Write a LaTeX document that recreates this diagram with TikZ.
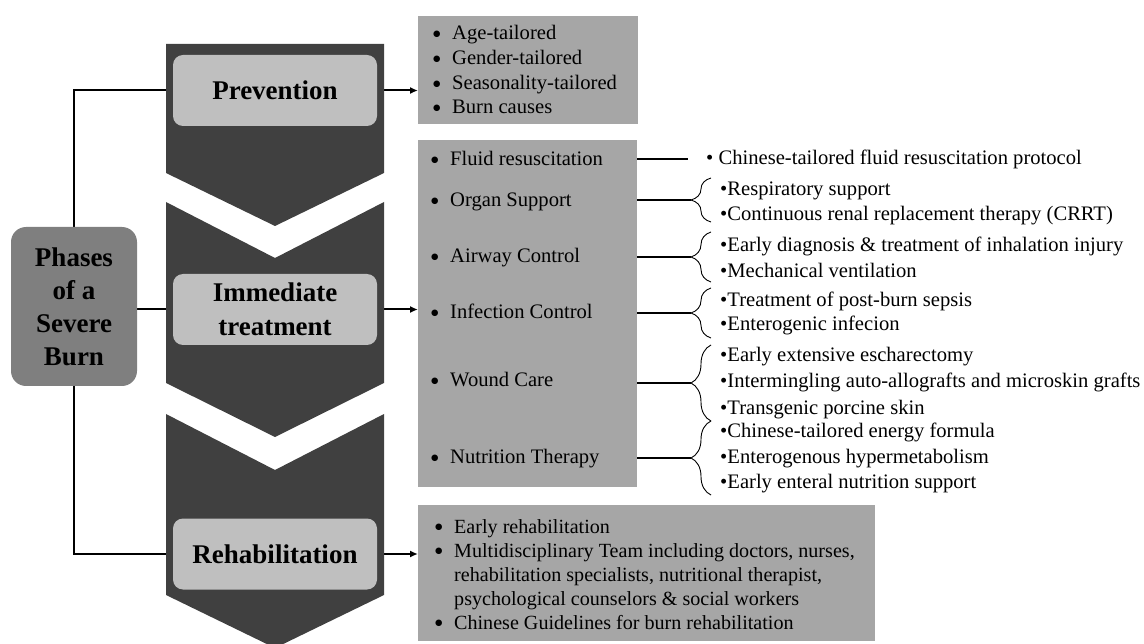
\documentclass[tikz,border=0pt]{standalone}
\usepackage{fontspec}
\setmainfont{Liberation Serif}
\newfontfamily\dotfont{DejaVu Sans}
\usetikzlibrary{arrows.meta,decorations.pathreplacing}
\pgfdeclarelayer{background}
\pgfsetlayers{background,main}
\definecolor{chevroncol}{HTML}{404040}
\definecolor{phasecol}{HTML}{7F7F7F}
\definecolor{stepcol}{HTML}{BFBFBF}
\definecolor{listcol}{HTML}{A6A6A6}
\newcommand{\itm}[1]{\makebox[19pt][l]{\raisebox{3.6pt}{\dotfont\fontsize{8.5}{9}\selectfont ●}}#1}
\tikzset{
	stepbox/.style={fill=stepcol, rounded corners=10pt, minimum width=204pt, minimum height=71pt, align=center, font=\fontsize{27}{34}\selectfont\bfseries},
	listbox/.style={fill=listcol, anchor=north west, inner sep=0pt},
	entry/.style={anchor=base west, inner sep=0pt, font=\fontsize{20.6}{24}\selectfont},
	rehabentry/.style={entry, font=\fontsize{20.1}{24}\selectfont},
	linkline/.style={line width=2pt},
	bracket/.style={decorate, decoration={brace, amplitude=20pt}, line width=0.9pt}
}

\begin{document}
\begin{tikzpicture}[x=1pt,y=-1pt]
			%%%%% FRAME %%%%%
			\useasboundingbox (0,0) rectangle (1144,644);
			
			%%%%% CHEVRONS %%%%%
			\fill[chevroncol] (166,44) -- (384,44) -- (384,173) -- (275,226) -- (166,173) -- cycle;
			\fill[chevroncol] (166,202) -- (275,258) -- (384,202) -- (384,383) -- (275,437) -- (166,383) -- cycle;
			\fill[chevroncol] (166,414) -- (275,470) -- (384,414) -- (384,595) -- (275,648) -- (166,595) -- cycle;
			
			%%%%% PHASES %%%%%
			\node[stepbox] (prev) at (275,90.5) {Prevention};
			\node[stepbox] (immed) at (275,309.5) {Immediate\\treatment};
			\node[stepbox] (rehab) at (275,554) {Rehabilitation};
			
			\node[fill=phasecol, rounded corners=15pt, minimum width=126pt, minimum height=159pt, align=center, font=\fontsize{27}{33}\selectfont\bfseries] (phases) at (74,306.5) {Phases\\of a\\Severe\\Burn};
			
			%%%%% LISTS %%%%%
			\node[listbox, minimum width=220pt, minimum height=108pt] (prevlist) at (418,16) {};
			\node[entry] (age) at (433,40) {\itm{Age-tailored}};
			\node[entry] (gender) at (433,65) {\itm{Gender-tailored}};
			\node[entry] (season) at (433,90) {\itm{Seasonality-tailored}};
			\node[entry] (cause) at (433,114) {\itm{Burn causes}};
			
			\node[listbox, minimum width=219pt, minimum height=347pt] (immedlist) at (418,140) {};
			\node[entry] (fluid) at (431,166) {\itm{Fluid resuscitation}};
			\node[entry] (organ) at (431,207) {\itm{Organ Support}};
			\node[entry] (airway) at (431,263) {\itm{Airway Control}};
			\node[entry] (infect) at (431,319) {\itm{Infection Control}};
			\node[entry] (wound) at (431,387) {\itm{Wound Care}};
			\node[entry] (nutri) at (431,464) {\itm{Nutrition Therapy}};
			
			\node[listbox, minimum width=457pt, minimum height=136pt] (rehablist) at (418,505) {};
			\node[rehabentry] (early) at (435,533) {\itm{Early rehabilitation}};
			\node[rehabentry] (team) at (435,557) {\itm{Multidisciplinary Team including doctors, nurses,}};
			\node[rehabentry] (team2) at (454,581) {rehabilitation specialists, nutritional therapist,};
			\node[rehabentry] (team3) at (454,605) {psychological counselors \& social workers};
			\node[rehabentry] (guide) at (435,629) {\itm{Chinese Guidelines for burn rehabilitation}};
			
			%%%%% DETAILS %%%%%
			\node[entry] (fluidr) at (706,165) {\textbullet\ Chinese-tailored fluid resuscitation protocol};
			\node[entry] (resp) at (720,196) {\textbullet Respiratory support};
			\node[entry] (crrt) at (720,221) {\textbullet Continuous renal replacement therapy (CRRT)};
			\node[entry] (inhal) at (720,252) {\textbullet Early diagnosis \& treatment of inhalation injury};
			\node[entry] (mech) at (720,278) {\textbullet Mechanical ventilation};
			\node[entry] (sepsis) at (720,307) {\textbullet Treatment of post-burn sepsis};
			\node[entry] (entinf) at (720,331) {\textbullet Enterogenic infecion};
			\node[entry] (eschar) at (720,362) {\textbullet Early extensive escharectomy};
			\node[entry] (graft) at (720,388) {\textbullet Intermingling auto-allografts and microskin grafts};
			\node[entry] (porcine) at (720,414) {\textbullet Transgenic porcine skin};
			\node[entry] (energy) at (720,437) {\textbullet Chinese-tailored energy formula};
			\node[entry] (hyper) at (720,463) {\textbullet Enterogenous hypermetabolism};
			\node[entry] (enteral) at (720,488) {\textbullet Early enteral nutrition support};
			
			\draw[bracket] (711,222) -- (711,178);
			\draw[bracket] (711,282) -- (711,232);
			\draw[bracket] (711,338) -- (711,288);
			\draw[bracket] (711,421) -- (711,345);
			\draw[bracket] (711,495) -- (711,421);
			
			\coordinate (fluidend) at (688,159);
			\coordinate (organtip) at (691,200);
			\coordinate (airwaytip) at (691,257);
			\coordinate (infecttip) at (691,313);
			\coordinate (woundtip) at (691,383);
			\coordinate (nutritip) at (691,458);
			
			\draw[linkline] (fluidend -| immedlist.east) -- (fluidend);
			\draw[linkline] (organtip -| immedlist.east) -- (organtip);
			\draw[linkline] (airwaytip -| immedlist.east) -- (airwaytip);
			\draw[linkline] (infecttip -| immedlist.east) -- (infecttip);
			\draw[linkline] (woundtip -| immedlist.east) -- (woundtip);
			\draw[linkline] (nutritip -| immedlist.east) -- (nutritip);
			
			%%%%% CONNECTORS %%%%%
			\begin{pgfonlayer}{background}
			\draw[linkline] (phases.north) |- (prev.west);
			\draw[linkline] (phases.east |- immed.west) -- (immed.west);
			\draw[linkline] (phases.south) |- (rehab.west);
			\draw[linkline, -{Latex[length=8pt,width=7pt]}] (prev.east) -- (prev.east -| prevlist.west);
			\draw[linkline, -{Latex[length=8pt,width=7pt]}] (immed.east) -- (immed.east -| immedlist.west);
			\draw[linkline, -{Latex[length=8pt,width=7pt]}] (rehab.east) -- (rehab.east -| rehablist.west);
			\end{pgfonlayer}
\end{tikzpicture}
\end{document}
